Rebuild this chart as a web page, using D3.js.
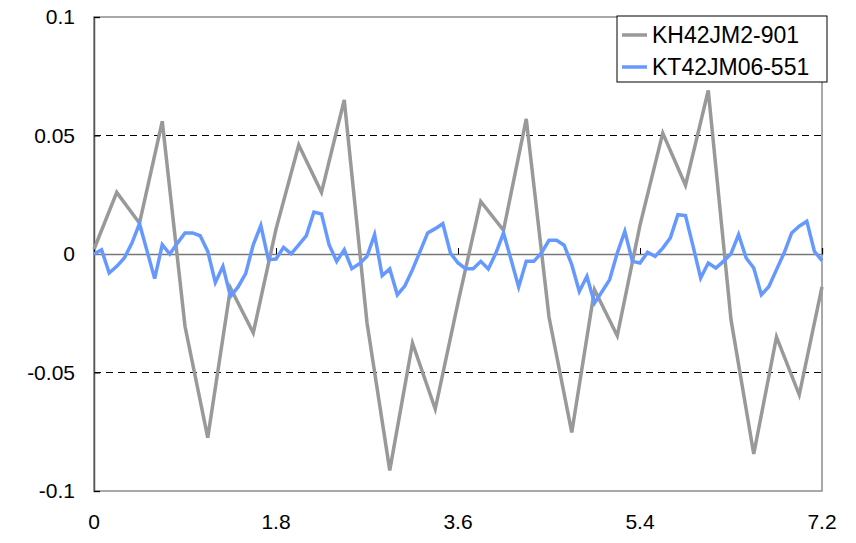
<!DOCTYPE html>
<html>
<head>
<meta charset="utf-8">
<script src="https://cdn.jsdelivr.net/npm/d3@7"></script>
<style>
  body { margin: 0; background: #fff; }
  text { font-family: "Liberation Sans", Arial, sans-serif; fill: #000; }
</style>
</head>
<body>
<svg id="chart"></svg>
<script>
// Series values
const seriesNames = ["KH42JM2-901", "KT42JM06-551"];
const grayStep = 0.225;
const grayValues = [0.002, 0.026, 0.013, 0.056, -0.0305, -0.0775, -0.0143, -0.0333, 0.0105,
    0.046, 0.026, 0.065, -0.029, -0.0913, -0.0376, -0.0654, -0.0205, 0.0222, 0.010,
    0.057, -0.0266, -0.0753, -0.0151, -0.0345, 0.0122, 0.051, 0.029, 0.069, -0.0277,
    -0.0844, -0.035, -0.0594, -0.0139];
const blueStep = 0.075;
const blueValues = [0.0, 0.0018, -0.008, -0.0052, -0.0017, 0.0046, 0.0128, 0.0012, -0.0104, 0.0039,
    0.0, 0.0046, 0.0089, 0.0089, 0.0077, 0.0011, -0.012, -0.0052, -0.0179, -0.0139,
    -0.0083, 0.0039, 0.012, -0.0024, -0.0021, 0.0028, 0.0001, 0.0039, 0.0077, 0.0177,
    0.0169, 0.0039, -0.0031, 0.0018, -0.0062, -0.0041, -0.001, 0.0082, -0.0091, -0.0063,
    -0.0172, -0.0134, -0.0066, 0.0011, 0.0089, 0.0107, 0.0128, 0.0004, -0.0038, -0.0062,
    -0.0062, -0.0031, -0.0063, 0.0004, 0.0089, -0.0024, -0.0139, -0.0031, -0.0031, 0.0004,
    0.0058, 0.0058, 0.0037, -0.0045, -0.0158, -0.0094, -0.0207, -0.0158, -0.0108, 0.0004,
    0.0096, -0.0031, -0.0038, 0.0007, -0.001, 0.0025, 0.0068, 0.0166, 0.0162, 0.0032,
    -0.0101, -0.0038, -0.0059, -0.0031, 0.0001, 0.0082, -0.0017, -0.0059, -0.0172, -0.0137,
    -0.0066, 0.0004, 0.0089, 0.0117, 0.0138, 0.0011, -0.0028];
const xTicks = [0, 1.8, 3.6, 5.4, 7.2];
const yTicks = [-0.1, -0.05, 0, 0.05, 0.1];
const gridValues = [-0.05, 0.05];
const colors = ["#999999", "#6699ff"];

const width = 856, height = 543;
const margin = { top: 17, right: 34, bottom: 52, left: 94 };

const svg = d3.select("#chart")
    .attr("width", width)
    .attr("height", height);

const x = d3.scaleLinear().domain([0, 7.2]).range([margin.left, width - margin.right]);
const y = d3.scaleLinear().domain([-0.1, 0.1]).range([height - margin.bottom, margin.top]);

// Plot frame
svg.append("rect")
    .attr("x", x(0)).attr("y", y(0.1))
    .attr("width", x(7.2) - x(0)).attr("height", y(-0.1) - y(0.1))
    .attr("fill", "none").attr("stroke", "#8c8c8c").attr("stroke-width", 1.5);

// Dashed gridlines
svg.selectAll(".grid")
    .data(gridValues)
    .enter().append("line")
    .attr("class", "grid")
    .attr("x1", x(0)).attr("x2", x(7.2))
    .attr("y1", d => y(d)).attr("y2", d => y(d))
    .attr("stroke", "#000").attr("stroke-width", 1)
    .attr("stroke-dasharray", "7,5");

// Y axis (inside ticks)
const yAxis = svg.append("g")
    .attr("transform", "translate(" + x(0) + ",0)")
    .call(d3.axisRight(y).tickValues(yTicks).tickSize(6).tickFormat(""));
yAxis.select(".domain").attr("stroke", "#555").attr("stroke-width", 1.5);
yAxis.selectAll(".tick line").attr("stroke", "#000");

svg.selectAll(".ylabel")
    .data(yTicks)
    .enter().append("text")
    .attr("class", "ylabel")
    .attr("x", 75)
    .attr("y", d => y(d))
    .attr("dy", "0.35em")
    .attr("text-anchor", "end")
    .style("font-size", "21px")
    .text(d => String(d));

// X axis along zero
const xAxis = svg.append("g")
    .attr("transform", "translate(0," + y(0) + ")")
    .call(d3.axisTop(x).tickValues(xTicks).tickSize(6).tickFormat(""));
xAxis.select(".domain").attr("stroke", "#777").attr("stroke-width", 1.5);
xAxis.selectAll(".tick line").attr("stroke", "#000");

svg.selectAll(".xlabel")
    .data(xTicks)
    .enter().append("text")
    .attr("class", "xlabel")
    .attr("x", d => x(d))
    .attr("y", height - 14)
    .attr("text-anchor", "middle")
    .style("font-size", "21px")
    .text(d => String(d));

// Lines
const line = d3.line()
    .x(d => x(d.t))
    .y(d => y(d.v));

const series = [
    grayValues.map((v, i) => ({ t: i * grayStep, v: v })),
    blueValues.map((v, i) => ({ t: i * blueStep, v: v }))
];

series.forEach((s, k) => {
    svg.append("path")
        .datum(s)
        .attr("fill", "none")
        .attr("stroke", colors[k])
        .attr("stroke-width", 3.5)
        .attr("stroke-linejoin", "miter")
        .attr("d", line);
});

// Legend
const legend = svg.append("g").attr("transform", "translate(617,16)");
legend.append("rect")
    .attr("width", 210).attr("height", 66)
    .attr("fill", "#fff").attr("stroke", "#000").attr("stroke-width", 1);

seriesNames.forEach((name, k) => {
    const ly = 19 + k * 32;
    legend.append("line")
        .attr("x1", 5).attr("x2", 30)
        .attr("y1", ly).attr("y2", ly)
        .attr("stroke", colors[k]).attr("stroke-width", 3.5);
    legend.append("text")
        .attr("x", 35).attr("y", ly)
        .attr("dy", "0.35em")
        .style("font-size", "23px")
        .text(name);
});
</script>
</body>
</html>
